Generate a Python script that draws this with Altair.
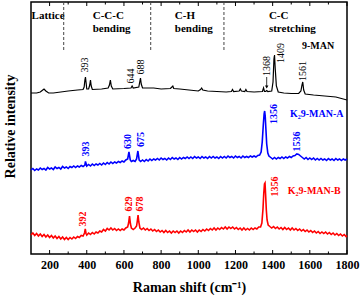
import altair as alt
import pandas as pd

FONT = "Liberation Serif"

# ---------------- spectra (Raman shift in cm-1, relative intensity in arbitrary units) -------------
black_shift = [100, 130, 150, 160, 170, 180, 195, 220, 260, 300,
               350, 380, 386, 390, 393, 396, 400, 410, 416, 420,
               424, 430, 480, 515, 522, 527, 532, 540, 600, 638,
               644, 650, 680, 685, 689, 693, 700, 760, 800, 850,
               858, 863, 868, 900, 950, 1000, 1012, 1018, 1024, 1050,
               1100, 1150, 1178, 1184, 1190, 1220, 1226, 1232, 1250, 1256,
               1262, 1300, 1345, 1351, 1356, 1362, 1368, 1374, 1395, 1402,
               1407, 1410, 1414, 1420, 1430, 1460, 1500, 1540, 1552, 1558,
               1562, 1567, 1575, 1620, 1680, 1740, 1780, 1800]
black_int = [161, 161, 162, 163.5, 165, 163, 161, 161, 162, 163,
             164, 164.5, 167, 174, 177, 172, 165, 165, 169, 174,
             168, 164.5, 165, 166, 169, 174, 168, 165, 165.5, 166,
             168, 166, 167, 172, 176, 170, 166, 166, 165, 165.5,
             167, 168, 165.5, 165, 164, 163, 164.5, 166, 164, 163,
             162.5, 162, 162.5, 164.5, 162.5, 163, 165, 163, 162.5, 164.5,
             162.5, 162, 162.5, 166, 162.5, 162.5, 163.5, 162.5, 163, 172,
             195, 199, 185, 168, 162, 161, 160.5, 160.5, 163, 169,
             172, 164, 160, 159, 158, 157, 155, 154]

blue_shift = [100, 110, 120, 130, 140, 150, 160, 170, 180, 190,
              200, 210, 220, 230, 240, 250, 260, 270, 280, 290,
              300, 310, 320, 330, 340, 350, 360, 370, 380, 390,
              393, 400, 410, 420, 430, 440, 450, 460, 470, 480,
              490, 500, 510, 520, 530, 540, 550, 560, 570, 580,
              590, 600, 610, 620, 627, 634, 640, 650, 660, 668,
              675, 682, 690, 700, 710, 720, 730, 740, 750, 760,
              770, 780, 790, 800, 810, 820, 830, 840, 850, 860,
              870, 880, 890, 900, 910, 920, 930, 940, 950, 960,
              970, 980, 990, 1000, 1010, 1020, 1030, 1040, 1050, 1060,
              1070, 1080, 1090, 1100, 1110, 1120, 1130, 1140, 1150, 1160,
              1170, 1180, 1190, 1200, 1210, 1220, 1230, 1240, 1250, 1260,
              1270, 1280, 1290, 1300, 1310, 1320, 1330, 1338, 1344, 1350,
              1354, 1357, 1360, 1364, 1368, 1374, 1380, 1390, 1400, 1410,
              1420, 1430, 1440, 1450, 1460, 1470, 1480, 1490, 1500, 1510,
              1520, 1530, 1540, 1550, 1560, 1570, 1580, 1590, 1600, 1610,
              1620, 1630, 1640, 1650, 1660, 1670, 1680, 1690, 1700, 1710,
              1720, 1730, 1740, 1750, 1760, 1770, 1780, 1790, 1800]
blue_int = [84, 85.5, 83.5, 85, 84, 86, 84.5, 85.5, 84, 86.5,
            85, 86, 84.5, 87, 85.5, 86.5, 85, 87.5, 86, 87,
            85.5, 87.5, 86.5, 88, 86.5, 88, 87, 88.5, 87.5, 89,
            92.5, 88, 89.5, 88, 90, 88.5, 90, 89, 90.5, 89,
            91, 89.5, 91.5, 90, 92, 90.5, 92, 91, 92.5, 91.5,
            93, 92, 94, 95, 102, 94, 92.5, 93.5, 92.5, 95,
            103, 94, 92.5, 94, 92.5, 94.5, 93, 95, 93.5, 95,
            94, 95.5, 94, 96, 94.5, 95.5, 94, 96, 94.5, 96.5,
            95, 96, 94.5, 96.5, 95, 96.5, 95.5, 97, 95.5, 97,
            95.5, 97.5, 96, 97, 95.5, 97.5, 96, 97, 95.5, 97.5,
            96, 97.5, 96, 97, 95.5, 97.5, 96, 97.5, 96, 98,
            96.5, 97.5, 96, 98, 96.5, 97.5, 96, 98, 96.5, 97.5,
            96.5, 98, 97, 98, 97, 98.5, 99, 102, 112, 130,
            140, 143, 138, 124, 110, 101, 98, 96.5, 95, 96.5,
            95, 96.5, 95.5, 97, 95.5, 97, 96, 97.5, 96.5, 98,
            98.5, 100, 99.5, 98, 96.5, 95, 96.5, 94.5, 96, 94.5,
            96, 94, 95.5, 94, 95.5, 94, 95, 93.5, 95.5, 94,
            95, 93.5, 95.5, 94, 95, 93.5, 95, 94, 95]

red_shift = [100, 110, 120, 130, 140, 150, 160, 170, 180, 190,
             200, 210, 220, 230, 240, 250, 260, 270, 280, 290,
             300, 310, 320, 330, 340, 350, 360, 370, 380, 388,
             392, 396, 400, 410, 420, 430, 440, 450, 460, 470,
             480, 490, 500, 510, 520, 530, 540, 550, 560, 570,
             580, 590, 600, 610, 620, 625, 630, 635, 640, 650,
             660, 668, 672, 676, 680, 686, 695, 705, 715, 725,
             735, 745, 755, 765, 775, 785, 795, 805, 815, 825,
             835, 845, 855, 865, 875, 885, 895, 905, 915, 925,
             935, 945, 955, 965, 975, 985, 995, 1005, 1015, 1025,
             1035, 1045, 1055, 1065, 1075, 1085, 1095, 1105, 1115, 1125,
             1135, 1145, 1155, 1165, 1175, 1185, 1195, 1205, 1215, 1225,
             1235, 1245, 1255, 1265, 1275, 1285, 1295, 1305, 1315, 1325,
             1335, 1342, 1348, 1352, 1356, 1359, 1362, 1366, 1370, 1376,
             1385, 1395, 1405, 1415, 1425, 1435, 1445, 1455, 1465, 1475,
             1485, 1495, 1505, 1515, 1525, 1535, 1545, 1555, 1565, 1575,
             1585, 1595, 1605, 1615, 1625, 1635, 1645, 1655, 1665, 1675,
             1685, 1695, 1705, 1715, 1725, 1735, 1745, 1755, 1765, 1775,
             1785, 1795, 1800]
red_int = [19, 21, 18.5, 20.5, 18, 20, 17.5, 19.5, 17, 19,
           16.5, 18.5, 16, 18, 15.5, 17.5, 15, 17, 14.5, 16.5,
           14.5, 16.5, 15, 17, 15.5, 17.5, 16.5, 18.5, 18, 21,
           25, 20.5, 19, 21, 19.5, 21.5, 20, 22, 21, 23,
           22, 24.5, 23, 25.5, 24, 26, 24, 25.5, 23.5, 25,
           23.5, 25, 24, 26, 27, 31, 38, 30, 26, 24.5,
           26, 28, 33, 39, 32, 26, 24.5, 26, 24, 25.5,
           23.5, 25, 23, 24.5, 22.5, 24, 22, 23.5, 21.5, 23.5,
           21.5, 23, 21, 23, 21.5, 23, 21, 23, 21.5, 23.5,
           22, 24, 22, 24, 22.5, 24, 22, 24, 22.5, 24.5,
           23, 25, 23.5, 25.5, 24, 26, 24, 26, 24.5, 26.5,
           25, 27, 25, 27, 25.5, 27, 25, 26.5, 24.5, 26,
           24, 26, 24, 25.5, 24, 26, 24.5, 26, 25, 27,
           27, 31, 45, 60, 70, 71, 60, 44, 34, 29,
           27.5, 26, 27.5, 25.5, 27, 25, 26.5, 24.5, 26.5, 24.5,
           26, 24, 26, 24, 25.5, 23.5, 25, 23, 24.5, 22.5,
           24, 22, 23.5, 21.5, 23, 21, 22.5, 20.5, 22, 20.5,
           22, 20, 21.5, 19.5, 21, 19, 20.5, 18.5, 20, 18,
           19.5, 17.5, 18.5]

# ---------------- peak labels ----------------
black_peak_text = ["393", "644", "688", "1368", "1409", "1561"]
black_peak_x = [393, 637, 694, 1369, 1445, 1563]
black_peak_y = [189, 178, 187, 188, 201, 183]

blue_peak_text = ["393", "630", "675", "1356", "1536"]
blue_peak_x = [394, 622, 691, 1407, 1529]
blue_peak_y = [105, 112.5, 114.5, 140, 112.5]

red_peak_text = ["392", "629", "678", "1356"]
red_peak_x = [380, 626, 685, 1412]
red_peak_y = [35, 50, 50, 67.5]

sample_names = ["9-MAN", "K\u20829-MAN-A", "K\u20829-MAN-B"]
sample_x = [1644, 1637, 1624]
sample_y = [208, 140, 63]
sample_colors = ["black", "#0000ff", "#ff0000"]

# ---------------- region annotations ----------------
region_text = ["Lattice", "C-C-C", "bending", "C-H", "bending", "C-C", "stretching"]
region_x = [103, 432, 432, 874, 874, 1380, 1380]
region_y = [238, 238, 225, 238, 225, 238, 225]
divider_x = [276, 744, 1138]
divider_top = 252
divider_bottom = 204

arrow_x = [1368]
arrow_top = [177]
arrow_tip = [167]

major_ticks = [200, 400, 600, 800, 1000, 1200, 1400, 1600, 1800]
minor_ticks = [300, 500, 700, 900, 1100, 1300, 1500, 1700]

W, H = 316, 252

x_axis = alt.Axis(values=major_ticks, format="d", title="Raman shift (cm\u207b\u00b9)",
                  ticks=False, domain=False, grid=False, labelOverlap=False,
                  labelFlush=False, labelBound=False,
                  labelFont=FONT, labelFontWeight="bold", labelFontSize=12,
                  labelColor="black", labelPadding=5,
                  titleFont=FONT, titleFontWeight="bold", titleFontSize=14,
                  titleColor="black", titleY=33, titleBaseline="middle")
y_axis = alt.Axis(title="Relative intensity", labels=False, ticks=False, domain=False,
                  grid=False, titleFont=FONT, titleFontWeight="bold", titleFontSize=14,
                  titleColor="black", titleX=-21, titleY=124, titleAngle=270,
                  titleAlign="center", titleBaseline="middle")
xs = alt.Scale(domain=[100, 1800], nice=False, zero=False)
ys = alt.Scale(domain=[0, 252], nice=False, zero=False)


def X(field="shift"):
    return alt.X(f"{field}:Q", scale=xs, axis=x_axis)


def Y(field="intensity"):
    return alt.Y(f"{field}:Q", scale=ys, axis=y_axis)


def spectrum(xv, yv, color, width):
    assert len(xv) == len(yv)
    df = pd.DataFrame({"shift": xv, "intensity": yv})
    return alt.Chart(df).mark_line(color=color, strokeWidth=width, interpolate="linear").encode(
        x=X(), y=Y())


def peak_labels(txt, xv, yv, color, weight):
    df = pd.DataFrame({"shift": xv, "intensity": yv, "label": txt})
    return alt.Chart(df).mark_text(angle=270, align="center", baseline="middle", font=FONT,
                                   fontSize=10, fontWeight=weight, color=color).encode(
        x=X(), y=Y(), text="label:N")


layers = []
layers.append(spectrum(black_shift, black_int, "black", 1.2))
layers.append(spectrum(blue_shift, blue_int, "#0000ff", 1.6))
layers.append(spectrum(red_shift, red_int, "#ff0000", 1.6))
layers.append(peak_labels(black_peak_text, black_peak_x, black_peak_y, "black", "normal"))
layers.append(peak_labels(blue_peak_text, blue_peak_x, blue_peak_y, "#0000ff", "bold"))
layers.append(peak_labels(red_peak_text, red_peak_x, red_peak_y, "#ff0000", "bold"))

names_df = pd.DataFrame({"shift": sample_x, "intensity": sample_y, "label": sample_names,
                         "col": sample_colors})
layers.append(alt.Chart(names_df).mark_text(align="center", baseline="middle", font=FONT,
                                            fontSize=10, fontWeight="bold").encode(
    x=X(), y=Y(), text="label:N",
    color=alt.Color("col:N", scale=None, legend=None)))

region_df = pd.DataFrame({"shift": region_x, "intensity": region_y, "label": region_text})
layers.append(alt.Chart(region_df).mark_text(align="left", baseline="middle", font=FONT,
                                             fontSize=11, fontWeight="bold", color="black").encode(
    x=X(), y=Y(), text="label:N"))

div_df = pd.DataFrame({"shift": divider_x, "intensity": [divider_top] * len(divider_x),
                       "low": [divider_bottom] * len(divider_x)})
layers.append(alt.Chart(div_df).mark_rule(color="#444444", strokeWidth=1, strokeDash=[3, 2]).encode(
    x=X(), y=Y(), y2="low:Q"))

arrow_df = pd.DataFrame({"shift": arrow_x, "intensity": arrow_top, "low": arrow_tip})
layers.append(alt.Chart(arrow_df).mark_rule(color="black", strokeWidth=0.8).encode(
    x=X(), y=Y(), y2="low:Q"))
tip_df = pd.DataFrame({"shift": arrow_x, "intensity": arrow_tip})
layers.append(alt.Chart(tip_df).mark_point(shape="triangle-down", filled=True, size=12,
                                           color="black", opacity=1).encode(x=X(), y=Y()))

major_df = pd.DataFrame({"shift": major_ticks})
minor_df = pd.DataFrame({"shift": minor_ticks})
for df, ln in ((major_df, 4), (minor_df, 2.5)):
    layers.append(alt.Chart(df).mark_rule(color="black", strokeWidth=1).encode(
        x=X(), y=alt.value(H), y2=alt.value(H - ln)))
    layers.append(alt.Chart(df).mark_rule(color="black", strokeWidth=1).encode(
        x=X(), y=alt.value(0), y2=alt.value(ln)))

chart = alt.layer(*layers).properties(
    width=W, height=H,
    autosize=alt.AutoSizeParams(type="none"),
    padding={"left": 31, "top": 2, "right": 15, "bottom": 43},
    background="white",
).configure_view(stroke="black", strokeWidth=1.5)

chart.save("out.html", embed_options={"renderer": "svg", "actions": False})
